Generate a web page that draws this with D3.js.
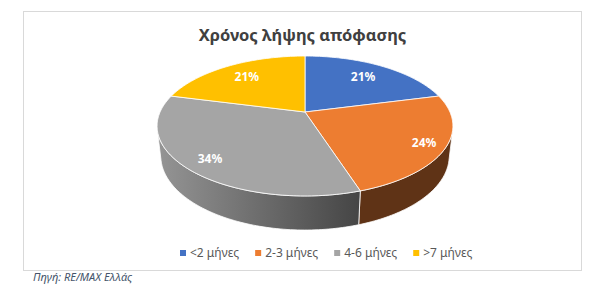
<!DOCTYPE html>
<html>
<head>
<meta charset="utf-8">
<script src="https://cdn.jsdelivr.net/npm/d3@7"></script>
<style>
  html, body { margin: 0; padding: 0; background: #fff; }
  svg { display: block; }
</style>
</head>
<body>
<script>
// ---- data ----
const title = "Χρόνος λήψης απόφασης";
const categories = ["<2 μήνες", "2-3 μήνες", "4-6 μήνες", ">7 μήνες"];
const values = [21, 24, 34, 21];
const source = "Πηγή: RE/MAX Ελλάς";

// ---- styles ----
const topColors = ["#4472C4", "#ED7D31", "#A5A5A5", "#FFC000"];
const sideColors = ["#22396a", "#5f3316", "url(#grayWall)", "#7f6000"];
const labelRadius = [0.73, 0.86, 0.84, 0.73];
const FONT = "'Noto Sans', 'DejaVu Sans', sans-serif";

const W = 614, H = 300;
const svg = d3.select("body").append("svg").attr("width", W).attr("height", H);

const defs = svg.append("defs");
const g1 = defs.append("linearGradient").attr("id", "grayWall")
  .attr("gradientUnits", "userSpaceOnUse").attr("x1", 157).attr("x2", 360).attr("y1", 0).attr("y2", 0);
g1.append("stop").attr("offset", 0).attr("stop-color", "#959595");
g1.append("stop").attr("offset", 1).attr("stop-color", "#454545");

// chart area border
svg.append("rect").attr("x", 23.5).attr("y", 11.5).attr("width", 558).attr("height", 259)
  .attr("fill", "#fff").attr("stroke", "#d9d9d9").attr("stroke-width", 1);

// title
svg.append("text").attr("x", 302.5).attr("y", 41).attr("text-anchor", "middle")
  .attr("font-family", FONT).attr("font-weight", "bold").attr("font-size", 16.5)
  .attr("fill", "#404040").text(title);

// ---- 3D pie projection ----
const cx = 305, cy = 112, S = 642, D = 4.43;
const sinE = 0.4634, cosE = Math.sqrt(1 - sinE * sinE);
const thick = 0.235;
function proj(theta, r, w) {
  const u = r * Math.sin(theta), v = r * Math.cos(theta);
  const Y = -(v * sinE + w * cosE);
  const Z = D + v * cosE - w * sinE;
  return [cx + S * u / Z, cy + S * Y / Z];
}
const pie = d3.pie().sort(null).value(d => d).startAngle(0).endAngle(2 * Math.PI);
const arcs = pie(values);
const line = d3.line();
function arcPoints(a0, a1, r, w) {
  const n = Math.max(2, Math.ceil((a1 - a0) / 0.02));
  return d3.range(n + 1).map(i => proj(a0 + (a1 - a0) * i / n, r, w));
}
const tV = Math.acos(-1 / (D * cosE));
const visMin = tV, visMax = 2 * Math.PI - tV;

const walls = svg.append("g");
arcs.forEach((a, i) => {
  const s = Math.max(a.startAngle, visMin), e = Math.min(a.endAngle, visMax);
  if (e <= s) return;
  const pts = arcPoints(s, e, 1, 0).concat(arcPoints(s, e, 1, -thick).reverse());
  walls.append("path").attr("d", line(pts) + "Z")
    .attr("fill", sideColors[i]).attr("stroke", "#ffffff").attr("stroke-width", 0.8)
    .attr("stroke-linejoin", "round");
});

const tops = svg.append("g");
arcs.forEach((a, i) => {
  const pts = [proj(0, 0, 0)].concat(arcPoints(a.startAngle, a.endAngle, 1, 0));
  tops.append("path").attr("d", line(pts) + "Z")
    .attr("fill", topColors[i]).attr("stroke", "#ffffff").attr("stroke-width", 0.8)
    .attr("stroke-linejoin", "round");
});

// labels
arcs.forEach((a, i) => {
  const m = (a.startAngle + a.endAngle) / 2;
  const p = proj(m, labelRadius[i], 0);
  svg.append("text").attr("x", p[0]).attr("y", p[1]).attr("dy", "0.35em")
    .attr("text-anchor", "middle").attr("font-family", FONT).attr("font-weight", "bold")
    .attr("font-size", 12).attr("fill", "#ffffff")
    .text(values[i] + "%");
});

// legend
const leg = svg.append("g");
let lx = 180;
const ly = 253;
categories.forEach((c, i) => {
  leg.append("rect").attr("x", lx).attr("y", ly - 3).attr("width", 6).attr("height", 6)
    .attr("fill", topColors[i]);
  const t = leg.append("text").attr("x", lx + 10).attr("y", ly).attr("dy", "0.35em")
    .attr("font-family", FONT).attr("font-size", 12).attr("fill", "#595959").text(c);
  lx += 10 + t.node().getComputedTextLength() + 16;
});

// source
svg.append("text").attr("x", 33).attr("y", 281).attr("font-family", FONT)
  .attr("font-style", "italic").attr("font-size", 11).attr("fill", "#44546A").text(source);
</script>
</body>
</html>
